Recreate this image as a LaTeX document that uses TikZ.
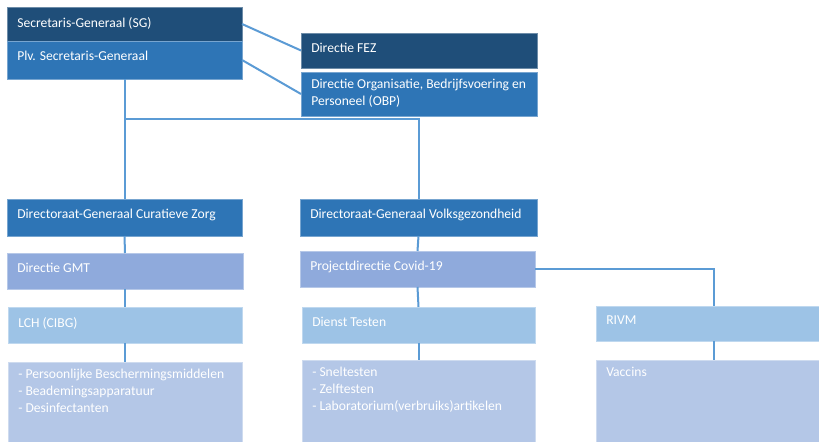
\documentclass[tikz,border=0pt]{standalone}
\usepackage{fontspec}
\setmainfont{Carlito}
\usepackage{tikz}
\usetikzlibrary{positioning}

\definecolor{navy}{HTML}{1F4E79}
\definecolor{midblue}{HTML}{2E75B6}
\definecolor{paleblue}{HTML}{8FAADC}
\definecolor{skyblue}{HTML}{9DC3E6}
\definecolor{mistblue}{HTML}{B4C7E7}
\definecolor{linkblue}{HTML}{5B9BD5}

\begin{document}
\begin{tikzpicture}[x=0.75pt, y=-0.75pt,
  box/.style={draw=white!35!#1, fill=#1, line width=0.6pt, anchor=north west, inner sep=0, outer sep=0},
  size/.style 2 args={minimum width=#1*0.75pt, minimum height=#2*0.75pt},
  lbl/.style={anchor=north west, inner xsep=7.5pt, inner ysep=7.5pt, text=white, font=\fontsize{10.2}{12.75}\selectfont, align=left},
  lst/.style={lbl, inner ysep=5pt},
  conn/.style={draw=linkblue, line width=1.5pt}]
  \useasboundingbox (0,0) rectangle (819,442);
  \clip (0,0) rectangle (819,442);
  \fill [white] (0,0) rectangle (819,442);

  \node [box=navy, size={235}{34}, label={[lbl]north west:Secretaris-Generaal (SG)}] (sg) at (7,7) {};
  \node [box=midblue, size={235}{38}, label={[lbl]north west:Plv. Secretaris-Generaal}] (plv) at (7,41) {};

  \node [box=navy, size={236}{35}, label={[lbl]north west:Directie FEZ}] (fez) at (301,33) {};
  \node [box=midblue, size={236}{44}, label={[lst]north west:{Directie Organisatie, Bedrijfsvoering en\\Personeel (OBP)}}] (obp) at (301,72) {};

  \node [box=midblue, size={235}{37}, label={[lbl]north west:Directoraat-Generaal Curatieve Zorg}] (dgcz) at (7,199) {};
  \node [box=midblue, size={237}{37}, label={[lbl]north west:Directoraat-Generaal Volksgezondheid}] (dgvg) at (300,199) {};

  \node [box=paleblue, size={236}{36}, label={[lbl]north west:Directie GMT}] (gmt) at (7,253) {};
  \node [box=paleblue, size={235}{36}, label={[lbl]north west:Projectdirectie Covid-19}] (covid) at (300,251) {};

  \node [box=skyblue, size={234}{36}, label={[lbl]north west:LCH (CIBG)}] (lch) at (8,307) {};
  \node [box=skyblue, size={233}{36}, label={[lbl]north west:Dienst Testen}] (testen) at (302,307) {};
  \node [box=skyblue, size={236}{35}, label={[lbl]north west:RIVM}] (rivm) at (596,306) {};

  \node [box=mistblue, size={234}{82}, label={[lst]north west:{- Persoonlijke Beschermingsmiddelen\\- Beademingsapparatuur\\- Desinfectanten}}] (lchlist) at (8,362) {};
  \node [box=mistblue, size={233}{82}, label={[lst]north west:{- Sneltesten\\- Zelftesten\\- Laboratorium(verbruiks)artikelen}}] (testlist) at (302,360) {};
  \node [box=mistblue, size={236}{82}, label={[lst]north west:Vaccins}] (vaccins) at (596,360) {};

  \coordinate (split) at (plv.south |- 0,119);

  \draw [conn] (sg.east) -- (fez.west);
  \draw [conn] (plv.east) -- (obp.west);
  \draw [conn] (plv.south) -- (dgcz.north);
  \draw [conn] (split) -| (dgvg.north);
  \draw [conn] (dgcz.south) -- (gmt.north);
  \draw [conn] (gmt.south) -- (lch.north);
  \draw [conn] (lch.south) -- (lchlist.north);
  \draw [conn] (dgvg.south) -- (covid.north);
  \draw [conn] (covid.south) -- (testen.north);
  \draw [conn] (testen.south) -- (testlist.north);
  \draw [conn] (covid.east) -| (rivm.north);
  \draw [conn] (rivm.south) -- (vaccins.north);
\end{tikzpicture}
\end{document}
